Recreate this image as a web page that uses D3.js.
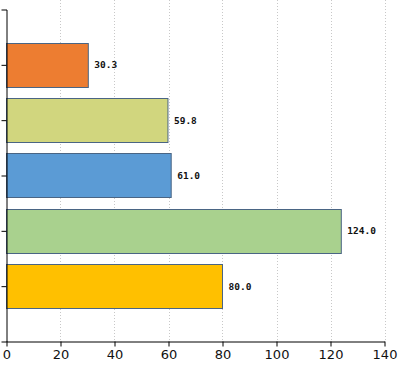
<!DOCTYPE html>
<html>
<head>
<meta charset="utf-8">
<script src="https://cdn.jsdelivr.net/npm/d3@7"></script>
<style>
  body { margin: 0; background: #fff; }
  svg { display: block; }
</style>
</head>
<body>
<div id="chart"></div>
<script>
// DATA
var categories = ["A", "B", "C", "D", "E"];
var values = [30.3, 59.8, 61.0, 124.0, 80.0];
var colors = ["#ED7D31", "#D1D67E", "#5B9BD5", "#A9D18E", "#FFC000"];
var xTicks = [0, 20, 40, 60, 80, 100, 120, 140];

// CHART SETUP
var width = 404, height = 371;
var plotLeft = 6.5, plotRight = 384.5, plotTop = 9.5, plotBottom = 341.5;

var svg = d3.select("#chart")
  .append("svg")
  .attr("width", width)
  .attr("height", height);

var xScale = d3.scaleLinear().domain([0, 140]).range([plotLeft, plotRight]);
var yScale = d3.scalePoint().domain(categories).range([plotTop, plotBottom]).padding(1);
var barH = yScale.step() * 0.8;

// GRIDLINES
svg.selectAll(".grid")
  .data(xTicks.slice(1))
  .enter()
  .append("line")
  .attr("class", "grid")
  .attr("x1", d => Math.round(xScale(d)) + 0.5)
  .attr("x2", d => Math.round(xScale(d)) + 0.5)
  .attr("y1", 0)
  .attr("y2", plotBottom)
  .attr("stroke", "#c8c8c8")
  .attr("stroke-dasharray", "1,2");

// BARS
svg.selectAll(".bar")
  .data(values)
  .enter()
  .append("rect")
  .attr("class", "bar")
  .attr("x", xScale(0))
  .attr("y", (d, i) => Math.round(yScale(categories[i]) - barH / 2) + 0.5)
  .attr("width", d => xScale(d) - xScale(0))
  .attr("height", Math.round(barH))
  .attr("fill", (d, i) => colors[i])
  .attr("stroke", "#4A6584")
  .attr("stroke-width", 1);

// VALUE LABELS
svg.selectAll(".lbl")
  .data(values)
  .enter()
  .append("text")
  .attr("class", "lbl")
  .attr("x", d => xScale(d) + 6)
  .attr("y", (d, i) => yScale(categories[i]) + 1)
  .attr("dominant-baseline", "middle")
  .style("font", "bold 9.5px 'DejaVu Sans Mono', monospace")
  .style("fill", "#111")
  .text(d => d.toFixed(1));

// X AXIS
var xAxis = d3.axisBottom(xScale).tickValues(xTicks).tickSize(5).tickSizeOuter(0);
var gx = svg.append("g")
  .attr("transform", "translate(0," + plotBottom + ")")
  .call(xAxis);
gx.select(".domain").attr("stroke", "#000");
gx.selectAll(".tick line").attr("stroke", "#000");
gx.selectAll("text")
  .attr("y", 8)
  .style("font", "13px 'DejaVu Sans', sans-serif")
  .style("fill", "#111");

// Y AXIS
var yAxis = d3.axisLeft(yScale).tickSize(5).tickSizeOuter(5).tickFormat("");
var gy = svg.append("g")
  .attr("transform", "translate(" + plotLeft + ",0)")
  .call(yAxis);
gy.select(".domain").attr("stroke", "#000");
gy.selectAll(".tick line").attr("stroke", "#000");
</script>
</body>
</html>
